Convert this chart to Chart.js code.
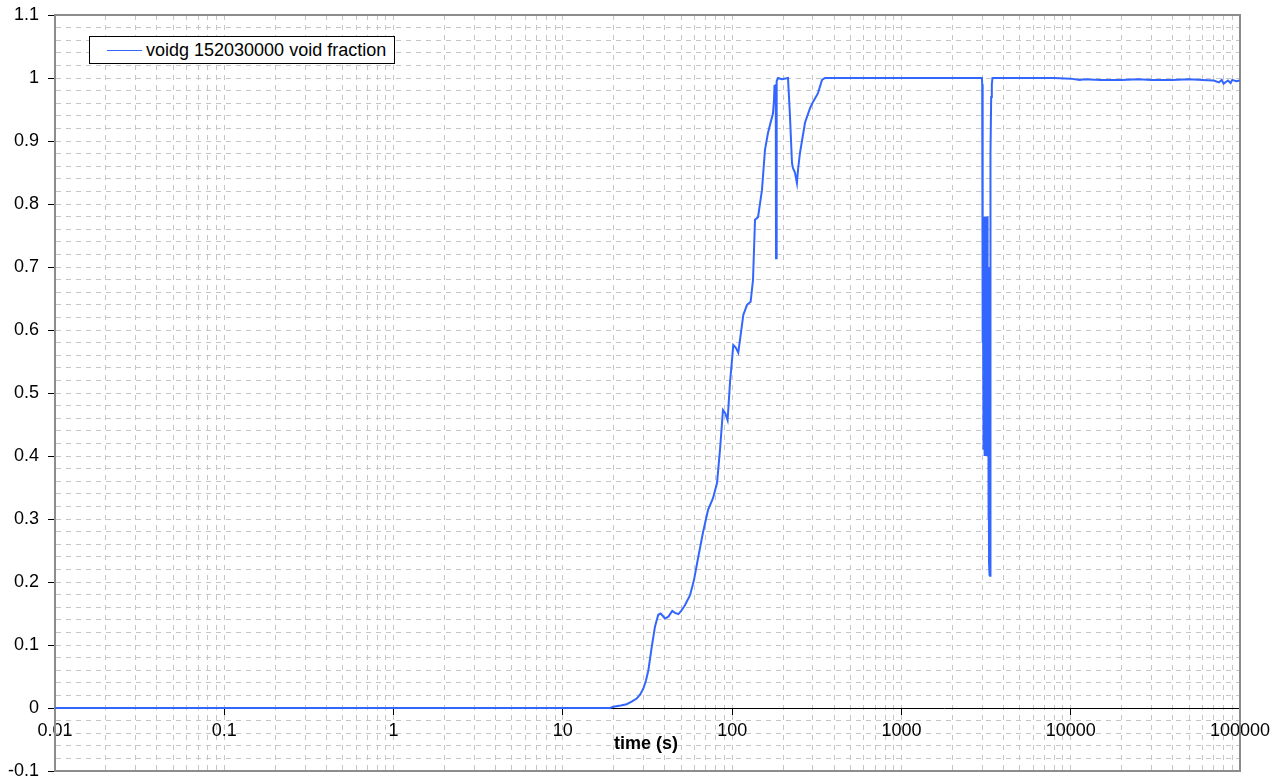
<!DOCTYPE html>
<html>
<head>
<meta charset="utf-8">
<script src="https://cdn.jsdelivr.net/npm/chart.js@4.4.1/dist/chart.umd.min.js"></script>
<style>
  html, body { margin: 0; padding: 0; background: #fff; }
  #wrap { position: relative; width: 1285px; height: 780px; }
  #legend {
    position: absolute; left: 89px; top: 36px; width: 304px; height: 26px;
    border: 1px solid #000; background: #fff;
    font: 18px "Liberation Sans", Arial, sans-serif; color: #000;
    display: flex; align-items: center; white-space: nowrap;
  }
  #legend .swatch { display: inline-block; width: 35px; height: 0; border-top: 1px solid #3366ff; margin: 0 4px 0 17px; }
</style>
</head>
<body>
<div id="wrap">
  <canvas id="canvas" width="1285" height="780"></canvas>
  <div id="legend"><span class="swatch"></span><span id="legendText"></span></div>
</div>
<script>
// voidg 152030000 history
const seriesLabel = 'voidg 152030000 void fraction';
const axisTitle = 'time (s)';

const timeS = [
  0.01, 19, 19.9, 22, 23.8, 25.5, 27.3, 28.7, 29.9, 31, 32, 33.5, 35, 36.6, 37.8, 39, 40.1, 42, 44.3, 46, 48.1,
  50, 52.6, 56.4, 59.5, 62.6, 67.3, 72, 77.1, 81.4, 84.8, 88.3, 91, 94, 97.1, 101.6, 105, 108.7,
  116.4, 122.4, 128.6, 132.8, 136.5, 142.2, 150, 156.3, 162.9, 174.3, 176.7, 178,
  179.5, 181, 181.6, 182.5, 184, 186.6, 197, 213.8, 219.7, 225.7, 228.8, 235, 241.4,
  244.9, 251.6, 269.4, 288.4, 300.4, 321.4, 339.5, 353.5,
  1000, 2990, 3000, 3010, 3020, 3028, 3036, 3044, 3052, 3060, 3068, 3076, 3084, 3092,
  3100, 3108, 3116, 3124, 3132, 3140, 3148, 3156, 3164, 3172, 3180, 3188, 3196, 3204,
  3212, 3220, 3228, 3236, 3244, 3252, 3260, 3268, 3276, 3284, 3292, 3300, 3308, 3316,
  3324, 3332, 3340, 3350, 3365, 3390, 3420, 3450,
  5000, 8000, 10000, 11300, 12000, 15000, 20000, 25000, 30000, 40000, 50000, 60000,
  70000, 75000, 78000, 80000, 85000, 88000, 90000, 95000, 100000
];

const voidFraction = [
  0, 0, 0.002, 0.004, 0.006, 0.010, 0.015, 0.022, 0.031, 0.044, 0.06, 0.097, 0.129, 0.148, 0.150, 0.146, 0.142, 0.145, 0.154, 0.151, 0.149,
  0.154, 0.163, 0.179, 0.203, 0.235, 0.279, 0.314, 0.333, 0.357, 0.41, 0.473, 0.468, 0.457, 0.516, 0.576, 0.572, 0.564,
  0.624, 0.640, 0.645, 0.679, 0.775, 0.779, 0.822, 0.886, 0.913, 0.944, 0.965, 0.989,
  0.975, 0.99, 0.714, 0.99, 0.995, 1.0, 0.998, 1.0, 0.938, 0.865, 0.857, 0.85, 0.833,
  0.854, 0.881, 0.929, 0.952, 0.962, 0.976, 0.997, 1.0,
  1.0, 1.0, 0.99, 0.75, 0.58, 0.78, 0.62, 0.77, 0.45, 0.78, 0.41, 0.77, 0.40, 0.78,
  0.42, 0.76, 0.40, 0.78, 0.41, 0.77, 0.40, 0.78, 0.42, 0.76, 0.40, 0.77, 0.41, 0.78,
  0.40, 0.76, 0.41, 0.74, 0.40, 0.70, 0.38, 0.60, 0.30, 0.55, 0.23, 0.50, 0.21, 0.45,
  0.22, 0.40, 0.21, 0.55, 0.88, 0.97, 0.99, 1.0,
  1.0, 1.0, 0.999, 0.997, 0.998, 0.997, 0.997, 0.998, 0.997, 0.997, 0.998, 0.997,
  0.996, 0.993, 0.997, 0.991, 0.996, 0.992, 0.997, 0.995, 0.996
];

const xTickLabels = ['0.01', '0.1', '1', '10', '100', '1000', '10000', '100000'];
const yTickLabels = ['-0.1', '0', '0.1', '0.2', '0.3', '0.4', '0.5', '0.6', '0.7', '0.8', '0.9', '1', '1.1'];

document.getElementById('legendText').textContent = seriesLabel;

const FONT = '"Liberation Sans", Arial, sans-serif';
const GRID = '#c6c6c6';

const isDecade = v => Math.abs(Math.log10(v) - Math.round(Math.log10(v))) < 1e-9;

// plot-area frame and the axis title
const frame = {
  id: 'frame',
  beforeDatasetsDraw(chart) {
    const { ctx, chartArea: a } = chart;
    ctx.save();
    ctx.strokeStyle = '#8c8c8c';
    ctx.lineWidth = 2;
    ctx.strokeRect(a.left, a.top, a.right - a.left, a.bottom - a.top);
    ctx.restore();
  },
  afterDraw(chart) {
    const ctx = chart.ctx;
    ctx.save();
    ctx.font = 'bold 18px ' + FONT;
    ctx.fillStyle = '#000';
    ctx.textAlign = 'center';
    ctx.textBaseline = 'middle';
    ctx.fillText(axisTitle, 646, 744);
    ctx.restore();
  }
};

new Chart(document.getElementById('canvas'), {
  type: 'line',
  data: {
    datasets: [{
      label: seriesLabel,
      data: timeS.map((t, i) => ({ x: t, y: voidFraction[i] })),
      borderColor: '#3366ff',
      borderWidth: 2,
      pointRadius: 0,
      tension: 0,
      fill: false
    }]
  },
  options: {
    responsive: false,
    animation: false,
    events: [],
    layout: { padding: { left: 0, right: 45, top: 15, bottom: 9 } },
    plugins: { legend: { display: false }, tooltip: { enabled: false } },
    scales: {
      x: {
        type: 'logarithmic',
        min: 0.01,
        max: 100000,
        position: { y: 0 },
        afterBuildTicks(scale) {
          const ticks = [];
          for (let e = -2; e <= 5; e++) {
            for (let k = 1; k <= 9; k++) {
              const v = Number((k * Math.pow(10, e)).toPrecision(6));
              if (v <= 100000) ticks.push({ value: v });
            }
          }
          scale.ticks = ticks;
        },
        afterFit(scale) {
          scale.paddingTop = 0;
          scale.paddingBottom = 0;
        },
        ticks: {
          autoSkip: false,
          maxRotation: 0,
          padding: 6,
          color: '#000',
          font: { family: FONT, size: 18 },
          callback(v) {
            return isDecade(v) ? xTickLabels[Math.round(Math.log10(v)) + 2] : '';
          }
        },
        grid: {
          color: GRID,
          lineWidth: 1,
          tickLength: 6,
          tickWidth: 1,
          tickBorderDash: [],
          tickColor: c => (c.tick && isDecade(c.tick.value)) ? '#000' : 'rgba(0,0,0,0)'
        },
        border: { display: true, color: '#000', width: 1, dash: [5, 5] }
      },
      y: {
        type: 'linear',
        min: -0.1,
        max: 1.1,
        afterBuildTicks(scale) {
          const ticks = [];
          for (let i = 0; i <= 60; i++) ticks.push({ value: Number((-0.1 + i * 0.02).toFixed(2)) });
          scale.ticks = ticks;
        },
        afterFit(scale) {
          scale.width = 55;
          scale.paddingTop = 0;
          scale.paddingBottom = 0;
        },
        ticks: {
          autoSkip: false,
          padding: 9,
          color: '#000',
          font: { family: FONT, size: 18 },
          callback(v, i) { return i % 5 === 0 ? yTickLabels[i / 5] : ''; }
        },
        grid: {
          color: GRID,
          lineWidth: 1,
          tickLength: 7,
          tickWidth: 1,
          tickBorderDash: [],
          tickColor: c => (c.index % 5 === 0) ? '#000' : 'rgba(0,0,0,0)'
        },
        border: { display: true, color: '#8c8c8c', width: 2, dash: [5, 5] }
      }
    }
  },
  plugins: [frame]
});
</script>
</body>
</html>
